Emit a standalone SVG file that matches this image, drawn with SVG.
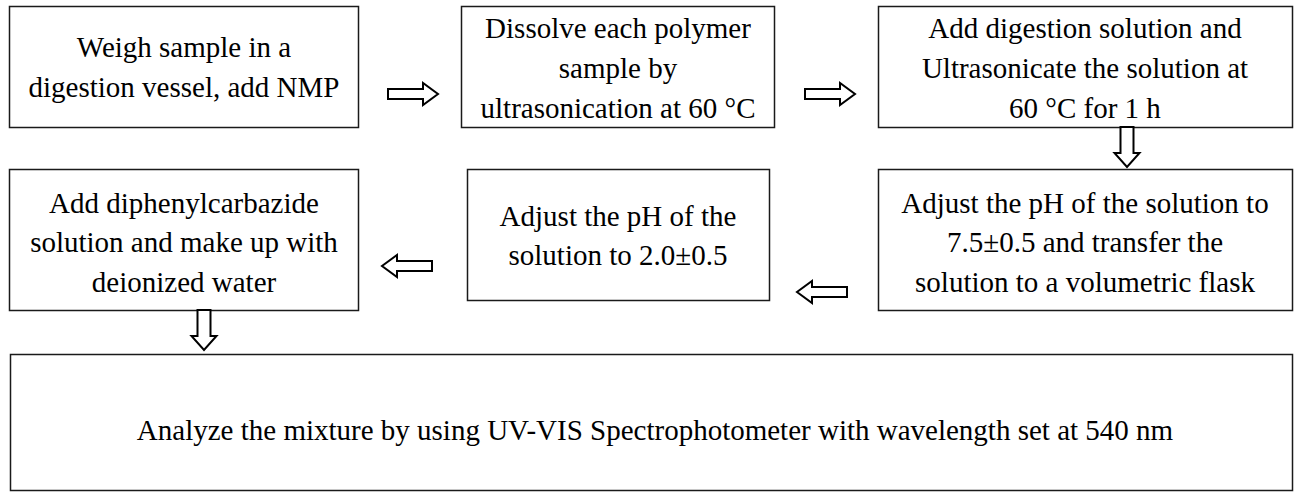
<svg xmlns="http://www.w3.org/2000/svg" xmlns:xlink="http://www.w3.org/1999/xlink" width="1295" height="497" viewBox="0 0 1295 497">
<style>
.box{fill:#fff;stroke:#1a1a1a;stroke-width:1.5}
text{font-family:'Liberation Serif','Times New Roman',serif;font-size:29px;fill:#000;text-anchor:middle}
.arr{fill:#fff;stroke:#000;stroke-width:2;stroke-linejoin:miter}
</style>
<defs>
<path id="ar" d="M0,-5 H35 V-11 L50,0 L35,11 V5 H0 Z"/>
<path id="ad" d="M-6.5,0 H6.5 V26 H12.5 L0,40 L-12.5,26 H-6.5 Z"/>
</defs>
<rect width="1295" height="497" fill="#fff"/>
<g id="n1"><rect class="box" x="9.5" y="6.5" width="349" height="121"/>
<text x="184" y="57">Weigh sample in a</text>
<text x="184" y="97">digestion vessel, add NMP</text></g>
<g id="n2"><rect class="box" x="461.5" y="6.5" width="313" height="121"/>
<text x="618" y="38">Dissolve each polymer</text>
<text x="618" y="78">sample by</text>
<text x="618" y="118">ultrasonication at 60 °C</text></g>
<g id="n3"><rect class="box" x="878.5" y="6.5" width="414" height="121"/>
<text x="1085" y="38">Add digestion solution and</text>
<text x="1085" y="78">Ultrasonicate the solution at</text>
<text x="1085" y="118">60 °C for 1 h</text></g>
<g id="n4"><rect class="box" x="9.5" y="169.5" width="349" height="141"/>
<text x="184" y="213">Add diphenylcarbazide</text>
<text x="184" y="252">solution and make up with</text>
<text x="184" y="292">deionized water</text></g>
<g id="n5"><rect class="box" x="467.5" y="169.5" width="302" height="131"/>
<text x="618" y="226">Adjust the pH of the</text>
<text x="618" y="265">solution to 2.0±0.5</text></g>
<g id="n6"><rect class="box" x="878.5" y="169.5" width="414" height="141"/>
<text x="1085" y="213">Adjust the pH of the solution to</text>
<text x="1085" y="252">7.5±0.5 and transfer the</text>
<text x="1085" y="292">solution to a volumetric flask</text></g>
<g id="n7"><rect class="box" x="10.5" y="354.5" width="1282" height="136"/>
<text x="655" y="440">Analyze the mixture by using UV-VIS Spectrophotometer with wavelength set at 540 nm</text></g>
<g id="connectors">
<use xlink:href="#ar" class="arr" transform="translate(388,94)"/>
<use xlink:href="#ar" class="arr" transform="translate(805,94)"/>
<use xlink:href="#ad" class="arr" transform="translate(1127,127)"/>
<use xlink:href="#ar" class="arr" transform="translate(847,292) scale(-1,1)"/>
<use xlink:href="#ar" class="arr" transform="translate(432,266) scale(-1,1)"/>
<use xlink:href="#ad" class="arr" transform="translate(204,310)"/>
</g>
</svg>
